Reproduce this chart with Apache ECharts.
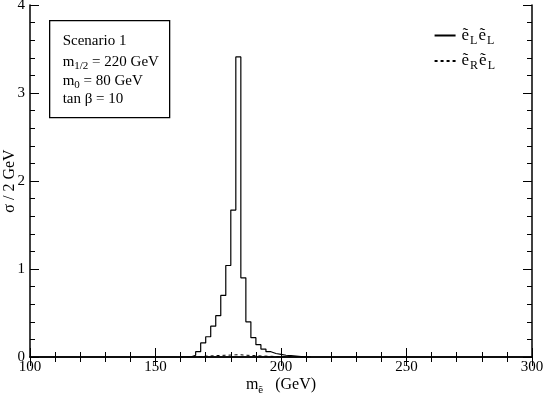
<!DOCTYPE html>
<html><head><meta charset="utf-8">
<script src="https://cdn.jsdelivr.net/npm/echarts@6/dist/echarts.min.js"></script>
<style>html,body{margin:0;padding:0;background:#fff}#c{width:545px;height:399px}</style>
</head><body><div id="c"></div>
<script>
// Histogram bins: 2 GeV wide, left edges start at binStart
const binStart = 160;
const binWidth = 2;
const eLeL = [0, 0, 0.02, 0.06, 0.16, 0.23, 0.35, 0.47, 0.70, 1.04, 1.67, 3.41, 0.90, 0.40, 0.22, 0.14, 0.09, 0.06, 0.04, 0.03, 0.02, 0.015, 0.01, 0.005, 0, 0];
const eReL = [0, 0, 0, 0.005, 0.01, 0.012, 0.015, 0.018, 0.02, 0.022, 0.025, 0.025, 0.02, 0.018, 0.015, 0.012, 0.01, 0.008, 0.006, 0.004, 0.003, 0.002, 0, 0, 0, 0];
const xTicks = [100, 150, 200, 250, 300];
const yTicks = [0, 1, 2, 3, 4];

function toSteps(vals) {
  const pts = vals.map((v, i) => [binStart + i * binWidth, v]);
  pts.push([binStart + vals.length * binWidth, vals[vals.length - 1]]);
  return pts;
}

const font = 'Liberation Serif';
const chart = echarts.init(document.getElementById('c'));
const axisLine = { show: true, lineStyle: { color: '#000', width: 1.5 } };
const tick = { inside: true, length: 9, lineStyle: { color: '#000', width: 1 } };
const minor = { show: true, splitNumber: 5, length: 5, lineStyle: { color: '#000', width: 1 } };
const boxRich = {
  m: { fontFamily: font, fontSize: 15, color: '#000' },
  s: { fontFamily: font, fontSize: 11, color: '#000', padding: [9, 0, 0, 0] }
};

chart.setOption({
  animation: false,
  grid: { left: 30, right: 13, top: 5, bottom: 42, containLabel: false, outerBoundsMode: 'none' },
  legend: {
    right: 45, top: 22, orient: 'vertical', itemWidth: 21, itemHeight: 14, itemGap: 6,
    data: ['eLeL', 'eReL'],
    itemStyle: { opacity: 0 },
    formatter: function (n) {
      return n === 'eLeL' ? '{m|ẽ}{s|L}{m|ẽ}{s|L}' : '{m|ẽ}{s|R}{m|ẽ}{s|L}';
    },
    textStyle: {
      fontFamily: font, fontSize: 17, color: '#000', padding: [0, 0, 0, 1],
      rich: {
        m: { fontFamily: font, fontSize: 17, color: '#000' },
        s: { fontFamily: font, fontSize: 12, color: '#000', padding: [10, 1, 0, 1] }
      }
    }
  },
  xAxis: [{
    type: 'value', min: 100, max: 300, interval: 50,
    axisLine: axisLine, axisTick: tick, minorTick: minor,
    splitLine: { show: false },
    axisLabel: { fontFamily: font, fontSize: 15, color: '#000', margin: 3 },
    name: '{m|m}{s|ẽ}{m|   (GeV)}', nameLocation: 'middle', nameGap: 16, nameMoveOverlap: false,
    nameTextStyle: { fontFamily: font, fontSize: 16, color: '#000',
      rich: { m: { fontFamily: font, fontSize: 16, color: '#000' },
              s: { fontFamily: font, fontSize: 11, color: '#000', padding: [12, 0, 0, 0] } } }
  }, {
    type: 'value', position: 'top', min: 100, max: 300, interval: 50,
    axisLine: axisLine, axisTick: tick, minorTick: minor,
    splitLine: { show: false }, axisLabel: { show: false }
  }],
  yAxis: [{
    type: 'value', min: 0, max: 4, interval: 1,
    axisLine: axisLine, axisTick: tick, minorTick: minor,
    splitLine: { show: false },
    axisLabel: { fontFamily: font, fontSize: 15, color: '#000', margin: 5 },
    name: 'σ / 2 GeV', nameLocation: 'middle', nameGap: 12, nameMoveOverlap: false,
    nameTextStyle: { fontFamily: font, fontSize: 16, color: '#000' }
  }, {
    type: 'value', position: 'right', min: 0, max: 4, interval: 1,
    axisLine: axisLine, axisTick: tick, minorTick: minor,
    splitLine: { show: false }, axisLabel: { show: false }
  }],
  series: [{
    name: 'eLeL', type: 'line', step: 'end', symbol: 'none',
    data: toSteps(eLeL),
    lineStyle: { color: '#000', width: 1.2 }, itemStyle: { color: '#000' }
  }, {
    name: 'eReL', type: 'line', step: 'end', symbol: 'none',
    data: toSteps(eReL),
    lineStyle: { color: '#000', width: 1, type: [3, 3] }, itemStyle: { color: '#000' }
  }],
  graphic: [{
    type: 'group', left: 49, top: 20,
    children: [
      { type: 'rect', shape: { x: 0, y: 0, width: 120, height: 97 },
        style: { fill: '#fff', stroke: '#000', lineWidth: 1.3 } },
      { type: 'text', style: { x: 13, y: 20, verticalAlign: 'middle', text: 'Scenario 1', font: '15px "Liberation Serif"', fill: '#000' } },
      { type: 'text', style: { x: 13, y: 41, verticalAlign: 'middle', rich: boxRich, text: '{m|m}{s|1/2}{m| = 220 GeV}', fill: '#000' } },
      { type: 'text', style: { x: 13, y: 60, verticalAlign: 'middle', rich: boxRich, text: '{m|m}{s|0}{m| = 80 GeV}', fill: '#000' } },
      { type: 'text', style: { x: 13, y: 78, verticalAlign: 'middle', text: 'tan β = 10', font: '15px "Liberation Serif"', fill: '#000' } }
    ]
  }]
});
</script></body></html>
